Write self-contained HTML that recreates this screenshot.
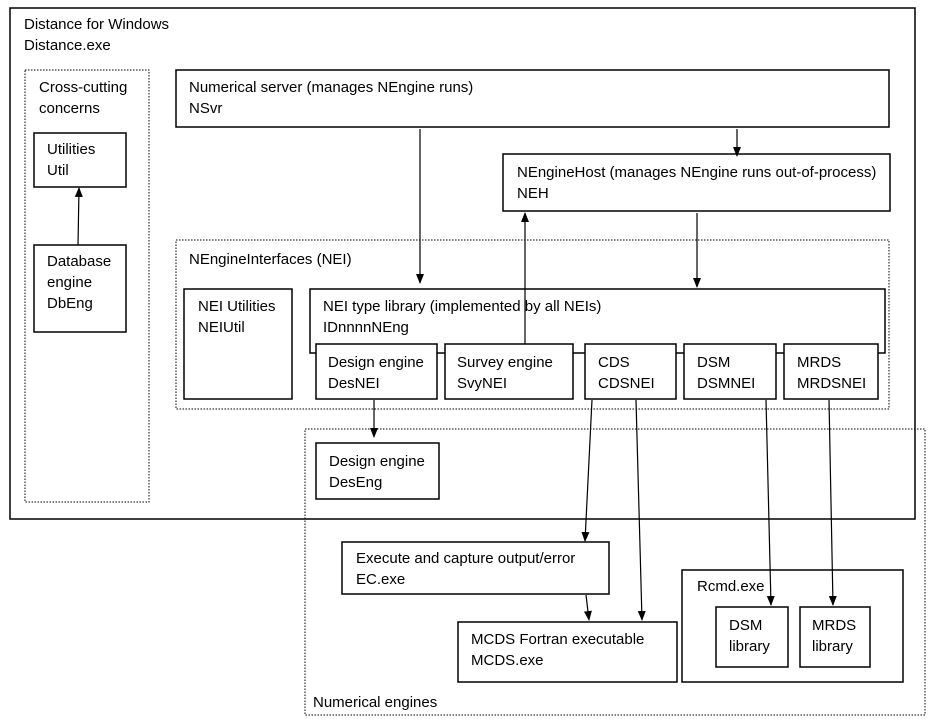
<!DOCTYPE html>
<html><head><style>body{margin:0;background:#fff}svg{display:block}text{font-family:"Liberation Sans",sans-serif;font-size:15px;fill:#000}</style></head>
<body>
<svg width="940" height="722" viewBox="0 0 940 722" xmlns="http://www.w3.org/2000/svg">
<defs><marker id="a" markerWidth="10" markerHeight="10" refX="9" refY="5" orient="auto" markerUnits="userSpaceOnUse"><path d="M0,1 L10,5 L0,9 Z" fill="#000"/></marker></defs>
<g fill="none" stroke="#000" stroke-width="1.5">
<rect x="10" y="8" width="905" height="511"/>
<rect x="25" y="70" width="124" height="432" stroke-dasharray="1.5,1.5" stroke-width="1"/>
<rect x="34" y="133" width="92" height="54"/>
<rect x="34" y="245" width="92" height="87"/>
<rect x="176" y="70" width="713" height="57"/>
<rect x="503" y="154" width="387" height="57" fill="#fff"/>
<rect x="176" y="240" width="713" height="169" stroke-dasharray="1.5,1.5" stroke-width="1"/>
<rect x="184" y="289" width="108" height="110"/>
<rect x="310" y="289" width="575" height="64"/>
<rect x="316" y="344" width="121" height="55" fill="#fff"/>
<rect x="445" y="344" width="128" height="55" fill="#fff"/>
<rect x="585" y="344" width="91" height="55" fill="#fff"/>
<rect x="684" y="344" width="92" height="55" fill="#fff"/>
<rect x="784" y="344" width="94" height="55" fill="#fff"/>
<rect x="305" y="429" width="620" height="286" stroke-dasharray="1.5,1.5" stroke-width="1"/>
<rect x="316" y="443" width="123" height="56"/>
<rect x="342" y="542" width="267" height="52"/>
<rect x="458" y="622" width="219" height="60"/>
<rect x="682" y="570" width="221" height="112"/>
<rect x="716" y="607" width="72" height="60"/>
<rect x="800" y="607" width="70" height="60"/>
</g>
<g stroke="#000" stroke-width="1.2" marker-end="url(#a)">
<line x1="78" y1="245" x2="79" y2="188"/>
<line x1="420" y1="129" x2="420" y2="283"/>
<line x1="737" y1="129" x2="737" y2="156"/>
<line x1="525" y1="344" x2="525" y2="213"/>
<line x1="697" y1="213" x2="697" y2="287"/>
<line x1="374" y1="400" x2="374" y2="437"/>
<line x1="592" y1="400" x2="585" y2="541"/>
<line x1="636" y1="400" x2="642" y2="620"/>
<line x1="586" y1="595" x2="589" y2="620"/>
<line x1="766" y1="400" x2="771" y2="605"/>
<line x1="829" y1="400" x2="833" y2="605"/>
</g>
<text x="24" y="29">Distance for Windows</text><text x="24" y="50">Distance.exe</text>
<text x="39" y="92">Cross-cutting</text><text x="39" y="113">concerns</text>
<text x="47" y="154">Utilities</text><text x="47" y="175">Util</text>
<text x="47" y="266">Database</text><text x="47" y="287">engine</text><text x="47" y="308">DbEng</text>
<text x="189" y="92">Numerical server (manages NEngine runs)</text><text x="189" y="113">NSvr</text>
<text x="517" y="177">NEngineHost (manages NEngine runs out-of-process)</text><text x="517" y="198">NEH</text>
<text x="189" y="264">NEngineInterfaces (NEI)</text>
<text x="198" y="311">NEI Utilities</text><text x="198" y="332">NEIUtil</text>
<text x="323" y="311">NEI type library (implemented by all NEIs)</text><text x="323" y="332">IDnnnnNEng</text>
<text x="328" y="367">Design engine</text><text x="328" y="388">DesNEI</text>
<text x="457" y="367">Survey engine</text><text x="457" y="388">SvyNEI</text>
<text x="598" y="367">CDS</text><text x="598" y="388">CDSNEI</text>
<text x="697" y="367">DSM</text><text x="697" y="388">DSMNEI</text>
<text x="797" y="367">MRDS</text><text x="797" y="388">MRDSNEI</text>
<text x="329" y="466">Design engine</text><text x="329" y="487">DesEng</text>
<text x="356" y="563">Execute and capture output/error</text><text x="356" y="584">EC.exe</text>
<text x="471" y="644">MCDS Fortran executable</text><text x="471" y="665">MCDS.exe</text>
<text x="697" y="591">Rcmd.exe</text>
<text x="729" y="630">DSM</text><text x="729" y="651">library</text>
<text x="812" y="630">MRDS</text><text x="812" y="651">library</text>
<text x="313" y="707">Numerical engines</text>
</svg>
</body></html>
